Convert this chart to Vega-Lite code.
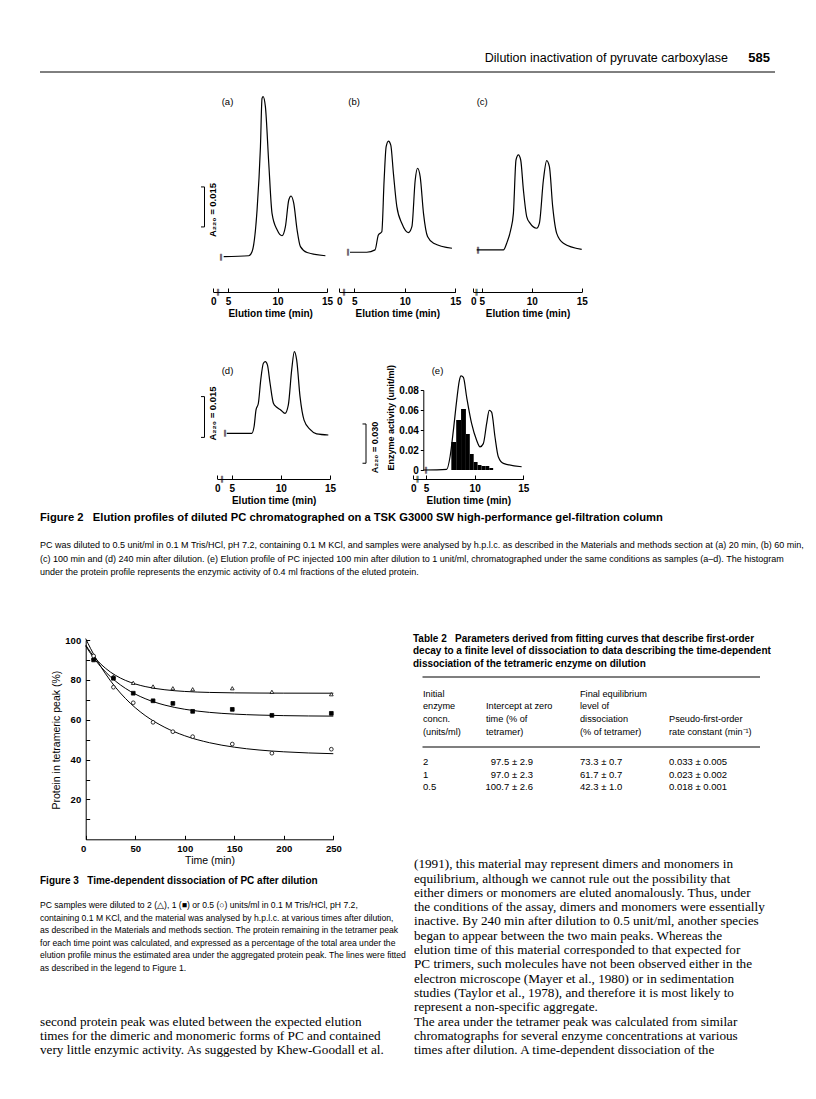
{
  "$schema": "https://vega.github.io/schema/vega-lite/v6.json",
  "width": 816,
  "height": 1099,
  "autosize": {"type": "none"},
  "padding": 0,
  "background": "white",
  "config": {
    "view": {"stroke": null},
    "font": "Liberation Sans",
    "axis": {"grid": false, "domainColor": "black", "domainWidth": 1, "tickColor": "black", "tickWidth": 1, "labelColor": "black", "titleColor": "black", "labelFlush": false, "labelOverlap": false, "labelBound": false, "labelFont": "Liberation Sans", "titleFont": "Liberation Sans"},
    "text": {"color": "black"}
  },
  "resolve": {"scale": {"x": "independent", "y": "independent", "shape": "independent", "fill": "independent"}, "axis": {"x": "independent", "y": "independent"}},
  "layer": [
    {"data": {"values": [{}]}, "mark": {"type": "rule", "color": "black", "strokeWidth": 1}, "encoding": {"x": {"value": 40}, "x2": {"value": 775}, "y": {"value": 72}}},
    {"data": {"values": [{"t": "Dilution inactivation of pyruvate carboxylase"}]}, "mark": {"type": "text", "align": "right", "baseline": "middle", "fontSize": 12.5, "color": "black"}, "encoding": {"text": {"field": "t"}, "x": {"value": 728}, "y": {"value": 58}}},
    {"data": {"values": [{"t": "585"}]}, "mark": {"type": "text", "align": "right", "baseline": "middle", "fontSize": 13, "fontWeight": "bold", "color": "black"}, "encoding": {"text": {"field": "t"}, "x": {"value": 770}, "y": {"value": 58}}},

    {"data": {"values": [
      {"t": 4.56, "A": 0.0133}, {"t": 7.09, "A": 0.0136}, {"t": 7.42, "A": 0.0151}, {"t": 7.93, "A": 0.0308}, {"t": 8.27, "A": 0.0545}, {"t": 8.43, "A": 0.0726}, {"t": 8.54, "A": 0.0733}, {"t": 8.77, "A": 0.0695}, {"t": 9.11, "A": 0.0483}, {"t": 9.44, "A": 0.0295}, {"t": 9.95, "A": 0.0233}, {"t": 10.45, "A": 0.0211}, {"t": 10.79, "A": 0.0245}, {"t": 11.13, "A": 0.0345}, {"t": 11.36, "A": 0.036}, {"t": 11.63, "A": 0.0333}, {"t": 11.97, "A": 0.0233}, {"t": 12.31, "A": 0.017}, {"t": 12.98, "A": 0.0148}, {"t": 14.83, "A": 0.0136}
    ]},
     "layer": [
      {"mark": {"type": "line", "color": "black", "strokeWidth": 1.2, "interpolate": "monotone"},
       "encoding": {
         "x": {"field": "t", "type": "quantitative", "scale": {"domain": [3.5, 15], "range": [213.2, 327.1], "zero": false, "nice": false},
               "axis": {"orient": "bottom", "offset": -807, "values": [3.5, 5, 10, 15], "labelExpr": "datum.value < 4.9 ? '0' : datum.label", "tickSize": -4, "labelPadding": 8, "labelFontSize": 10, "labelFontWeight": "bold", "title": "Elution time (min)", "titleFontSize": 10, "titleFontWeight": "bold", "titlePadding": 2}},
         "y": {"field": "A", "type": "quantitative", "scale": {"domain": [0, 0.075], "range": [292, 92], "zero": false, "nice": false}, "axis": null}}},
      {"data": {"values": [{"lo": 0.0244, "hi": 0.0394}]}, "mark": {"type": "rule", "color": "black", "strokeWidth": 1}, "encoding": {"x": {"value": 204.5}, "y": {"field": "lo", "type": "quantitative", "axis": null}, "y2": {"field": "hi"}}},
      {"data": {"values": [{"lo": 0.0244, "hi": 0.0394}]}, "mark": {"type": "rule", "color": "black", "strokeWidth": 1}, "encoding": {"x": {"value": 201}, "x2": {"value": 204.5}, "y": {"field": "hi", "type": "quantitative", "axis": null}}},
      {"data": {"values": [{"lo": 0.0244, "hi": 0.0394}]}, "mark": {"type": "rule", "color": "black", "strokeWidth": 1}, "encoding": {"x": {"value": 201}, "x2": {"value": 204.5}, "y": {"field": "lo", "type": "quantitative", "axis": null}}}
     ]},

    {"data": {"values": [
      {"t": 4.57, "A": 0.0149}, {"t": 6.23, "A": 0.0149}, {"t": 7.05, "A": 0.0158}, {"t": 7.38, "A": 0.0214}, {"t": 7.72, "A": 0.0226}, {"t": 7.95, "A": 0.042}, {"t": 8.15, "A": 0.0545}, {"t": 8.38, "A": 0.0566}, {"t": 8.61, "A": 0.0551}, {"t": 8.87, "A": 0.0445}, {"t": 9.21, "A": 0.032}, {"t": 9.7, "A": 0.0258}, {"t": 10.36, "A": 0.0223}, {"t": 10.7, "A": 0.0245}, {"t": 11.03, "A": 0.042}, {"t": 11.26, "A": 0.0464}, {"t": 11.52, "A": 0.0433}, {"t": 11.85, "A": 0.0295}, {"t": 12.25, "A": 0.0208}, {"t": 12.85, "A": 0.0183}, {"t": 14.67, "A": 0.0164}
    ]},
     "mark": {"type": "line", "color": "black", "strokeWidth": 1.2, "interpolate": "monotone"},
     "encoding": {
       "x": {"field": "t", "type": "quantitative", "scale": {"domain": [3.51, 15], "range": [339.3, 455.3], "zero": false, "nice": false},
             "axis": {"orient": "bottom", "offset": -807, "values": [3.51, 5, 10, 15], "labelExpr": "datum.value < 4.9 ? '0' : datum.label", "tickSize": -4, "labelPadding": 8, "labelFontSize": 10, "labelFontWeight": "bold", "title": "Elution time (min)", "titleFontSize": 10, "titleFontWeight": "bold", "titlePadding": 2}},
       "y": {"field": "A", "type": "quantitative", "scale": {"domain": [0, 0.075], "range": [292, 92], "zero": false, "nice": false}, "axis": null}}},

    {"data": {"values": [
      {"t": 4.5, "A": 0.0158}, {"t": 7.17, "A": 0.0158}, {"t": 7.5, "A": 0.0183}, {"t": 7.9, "A": 0.0233}, {"t": 8.17, "A": 0.0295}, {"t": 8.43, "A": 0.0495}, {"t": 8.67, "A": 0.0514}, {"t": 8.9, "A": 0.0495}, {"t": 9.17, "A": 0.0383}, {"t": 9.5, "A": 0.0283}, {"t": 9.83, "A": 0.0258}, {"t": 10.5, "A": 0.0239}, {"t": 10.77, "A": 0.0258}, {"t": 11.17, "A": 0.042}, {"t": 11.5, "A": 0.0493}, {"t": 11.77, "A": 0.047}, {"t": 12.1, "A": 0.032}, {"t": 12.5, "A": 0.022}, {"t": 13.17, "A": 0.0183}, {"t": 15.0, "A": 0.016}
    ]},
     "mark": {"type": "line", "color": "black", "strokeWidth": 1.2, "interpolate": "monotone"},
     "encoding": {
       "x": {"field": "t", "type": "quantitative", "scale": {"domain": [4.16, 15], "range": [473.3, 581.7], "zero": false, "nice": false},
             "axis": {"orient": "bottom", "offset": -807, "values": [4.16, 5, 10, 15], "labelExpr": "datum.value < 4.9 ? '0' : datum.label", "tickSize": -4, "labelPadding": 8, "labelFontSize": 10, "labelFontWeight": "bold", "title": "Elution time (min)", "titleFontSize": 10, "titleFontWeight": "bold", "titlePadding": 2}},
       "y": {"field": "A", "type": "quantitative", "scale": {"domain": [0, 0.075], "range": [292, 92], "zero": false, "nice": false}, "axis": null}}},

    {"data": {"values": [
      {"t": 4.49, "A": 0.0171}, {"t": 7.03, "A": 0.0171}, {"t": 7.27, "A": 0.0196}, {"t": 7.47, "A": 0.0259}, {"t": 7.71, "A": 0.0284}, {"t": 7.95, "A": 0.0371}, {"t": 8.22, "A": 0.0434}, {"t": 8.42, "A": 0.044}, {"t": 8.63, "A": 0.0428}, {"t": 8.9, "A": 0.0359}, {"t": 9.24, "A": 0.0284}, {"t": 9.58, "A": 0.0269}, {"t": 9.98, "A": 0.0259}, {"t": 10.42, "A": 0.0246}, {"t": 10.76, "A": 0.0278}, {"t": 11.1, "A": 0.0409}, {"t": 11.37, "A": 0.0478}, {"t": 11.61, "A": 0.0446}, {"t": 11.95, "A": 0.0309}, {"t": 12.36, "A": 0.0221}, {"t": 12.97, "A": 0.0186}, {"t": 13.64, "A": 0.0169}, {"t": 14.83, "A": 0.0165}
    ]},
     "layer": [
      {"mark": {"type": "line", "color": "black", "strokeWidth": 1.2, "interpolate": "monotone"},
       "encoding": {
         "x": {"field": "t", "type": "quantitative", "scale": {"domain": [3.53, 15], "range": [217.3, 330], "zero": false, "nice": false},
               "axis": {"orient": "bottom", "offset": -620, "values": [3.53, 5, 10, 15], "labelExpr": "datum.value < 4.9 ? '0' : datum.label", "tickSize": -4, "labelPadding": 8, "labelFontSize": 10, "labelFontWeight": "bold", "title": "Elution time (min)", "titleFontSize": 10, "titleFontWeight": "bold", "titlePadding": 2}},
         "y": {"field": "A", "type": "quantitative", "scale": {"domain": [0, 0.0375], "range": [479, 379], "zero": false, "nice": false}, "axis": null}}},
      {"data": {"values": [{"lo": 0.0156, "hi": 0.0309}]}, "mark": {"type": "rule", "color": "black", "strokeWidth": 1}, "encoding": {"x": {"value": 204.5}, "y": {"field": "lo", "type": "quantitative", "axis": null}, "y2": {"field": "hi"}}},
      {"data": {"values": [{"lo": 0.0156, "hi": 0.0309}]}, "mark": {"type": "rule", "color": "black", "strokeWidth": 1}, "encoding": {"x": {"value": 201}, "x2": {"value": 204.5}, "y": {"field": "hi", "type": "quantitative", "axis": null}}},
      {"data": {"values": [{"lo": 0.0156, "hi": 0.0309}]}, "mark": {"type": "rule", "color": "black", "strokeWidth": 1}, "encoding": {"x": {"value": 201}, "x2": {"value": 204.5}, "y": {"field": "lo", "type": "quantitative", "axis": null}}}
     ]},

    {"layer": [
      {"data": {"values": [
        {"start": 7.6, "end": 8.1, "activity": 0.028}, {"start": 8.1, "end": 8.6, "activity": 0.05}, {"start": 8.6, "end": 9.1, "activity": 0.061}, {"start": 9.1, "end": 9.5, "activity": 0.036}, {"start": 9.5, "end": 9.9, "activity": 0.016}, {"start": 9.9, "end": 10.3, "activity": 0.008}, {"start": 10.3, "end": 10.7, "activity": 0.005}, {"start": 10.7, "end": 11.1, "activity": 0.004}, {"start": 11.1, "end": 11.5, "activity": 0.004}, {"start": 11.5, "end": 11.9, "activity": 0.002}
      ]},
       "mark": {"type": "bar", "color": "black"},
       "encoding": {
         "x": {"field": "start", "type": "quantitative", "scale": {"domain": [3.69, 15], "range": [413.3, 523.3], "zero": false, "nice": false},
               "axis": {"orient": "bottom", "offset": -620, "values": [3.69, 5, 10, 15], "labelExpr": "datum.value < 4.9 ? '0' : datum.label", "tickSize": -4, "labelPadding": 8, "labelFontSize": 10, "labelFontWeight": "bold", "title": "Elution time (min)", "titleFontSize": 10, "titleFontWeight": "bold", "titlePadding": 2}},
         "x2": {"field": "end"},
         "y": {"field": "activity", "type": "quantitative", "scale": {"domain": [0, 0.08], "range": [470, 390], "zero": false, "nice": false},
               "axis": {"orient": "left", "offset": -423.3, "values": [0, 0.02, 0.04, 0.06, 0.08], "labelExpr": "datum.value == 0 ? '0' : format(datum.value, '.2f')", "tickSize": 3, "labelPadding": 2, "labelFontSize": 10, "labelFontWeight": "bold", "title": "Enzyme activity (unit/ml)", "titleFontSize": 9, "titleFontWeight": "bold", "titlePadding": 3, "titleAnchor": "start"}},
         "y2": {"datum": 0}}},
      {"data": {"values": [
        {"t": 4.73, "A": 0}, {"t": 7.12, "A": 0.0005}, {"t": 7.47, "A": 0.0102}, {"t": 7.81, "A": 0.0305}, {"t": 8.15, "A": 0.0534}, {"t": 8.42, "A": 0.0686}, {"t": 8.6, "A": 0.0724}, {"t": 8.84, "A": 0.0712}, {"t": 9.18, "A": 0.0559}, {"t": 9.69, "A": 0.0356}, {"t": 10.2, "A": 0.0229}, {"t": 10.55, "A": 0.0178}, {"t": 10.89, "A": 0.0203}, {"t": 11.23, "A": 0.0356}, {"t": 11.5, "A": 0.0458}, {"t": 11.74, "A": 0.0445}, {"t": 12.09, "A": 0.0254}, {"t": 12.43, "A": 0.0102}, {"t": 12.95, "A": 0.0051}, {"t": 14.83, "A": 0.0025}
      ]},
       "layer": [
        {"mark": {"type": "line", "color": "black", "strokeWidth": 1.2, "interpolate": "monotone"},
         "encoding": {"x": {"field": "t", "type": "quantitative",
                            "axis": {"orient": "bottom", "offset": -620, "values": [3.69, 5, 10, 15], "labelExpr": "datum.value < 4.9 ? '0' : datum.label", "tickSize": -4, "labelPadding": 8, "labelFontSize": 10, "labelFontWeight": "bold", "title": "Elution time (min)", "titleFontSize": 10, "titleFontWeight": "bold", "titlePadding": 2}},
                      "y": {"field": "A", "type": "quantitative", "scale": {"domain": [0, 0.07692], "range": [470, 370], "zero": false, "nice": false}, "axis": null}}},
        {"data": {"values": [{"lo": 0.0052, "hi": 0.0354}]}, "mark": {"type": "rule", "color": "black", "strokeWidth": 1}, "encoding": {"x": {"value": 366}, "y": {"field": "lo", "type": "quantitative", "axis": null}, "y2": {"field": "hi"}}},
        {"data": {"values": [{"lo": 0.0052, "hi": 0.0354}]}, "mark": {"type": "rule", "color": "black", "strokeWidth": 1}, "encoding": {"x": {"value": 362.5}, "x2": {"value": 366}, "y": {"field": "hi", "type": "quantitative", "axis": null}}},
        {"data": {"values": [{"lo": 0.0052, "hi": 0.0354}]}, "mark": {"type": "rule", "color": "black", "strokeWidth": 1}, "encoding": {"x": {"value": 362.5}, "x2": {"value": 366}, "y": {"field": "lo", "type": "quantitative", "axis": null}}}
       ]}
     ],
     "resolve": {"scale": {"y": "independent"}, "axis": {"y": "independent"}}},

    {"data": {"values": [
      {"x": 218, "y": 292}, {"x": 221, "y": 257}, {"x": 344, "y": 292}, {"x": 348, "y": 252}, {"x": 476.5, "y": 292}, {"x": 478, "y": 250},
      {"x": 222, "y": 479}, {"x": 225, "y": 433}, {"x": 417.5, "y": 479}, {"x": 426, "y": 470}
     ]},
     "mark": {"type": "text", "text": "\u2016", "align": "center", "baseline": "middle", "fontSize": 7, "font": "DejaVu Sans", "color": "black", "fill": "black"},
     "encoding": {"x": {"field": "x", "type": "quantitative", "scale": {"domain": [0, 816], "range": [0, 816]}, "axis": null}, "y": {"field": "y", "type": "quantitative", "scale": {"domain": [0, 1099], "range": [0, 1099]}, "axis": null}}},

    {"data": {"values": [{"t": "A\u2082\u2082\u2080 = 0.015"}]}, "mark": {"type": "text", "angle": 270, "align": "center", "baseline": "middle", "fontSize": 9.5, "fontWeight": "bold", "color": "black"}, "encoding": {"text": {"field": "t"}, "x": {"value": 212.5}, "y": {"value": 210}}},
    {"data": {"values": [{"t": "A\u2082\u2082\u2080 = 0.015"}]}, "mark": {"type": "text", "angle": 270, "align": "center", "baseline": "middle", "fontSize": 9.5, "fontWeight": "bold", "color": "black"}, "encoding": {"text": {"field": "t"}, "x": {"value": 212.5}, "y": {"value": 413.5}}},
    {"data": {"values": [{"t": "A\u2082\u2082\u2080 = 0.030"}]}, "mark": {"type": "text", "angle": 270, "align": "center", "baseline": "middle", "fontSize": 9, "fontWeight": "bold", "color": "black"}, "encoding": {"text": {"field": "t"}, "x": {"value": 375.3}, "y": {"value": 447.5}}},
    {"data": {"values": [{"t": "(a)"}]}, "mark": {"type": "text", "align": "left", "baseline": "middle", "fontSize": 9.5, "color": "black"}, "encoding": {"text": {"field": "t"}, "x": {"value": 221.7}, "y": {"value": 102}}},
    {"data": {"values": [{"t": "(b)"}]}, "mark": {"type": "text", "align": "left", "baseline": "middle", "fontSize": 9.5, "color": "black"}, "encoding": {"text": {"field": "t"}, "x": {"value": 348.3}, "y": {"value": 102}}},
    {"data": {"values": [{"t": "(c)"}]}, "mark": {"type": "text", "align": "left", "baseline": "middle", "fontSize": 9.5, "color": "black"}, "encoding": {"text": {"field": "t"}, "x": {"value": 476.7}, "y": {"value": 102}}},
    {"data": {"values": [{"t": "(d)"}]}, "mark": {"type": "text", "align": "left", "baseline": "middle", "fontSize": 9.5, "color": "black"}, "encoding": {"text": {"field": "t"}, "x": {"value": 221.7}, "y": {"value": 371}}},
    {"data": {"values": [{"t": "(e)"}]}, "mark": {"type": "text", "align": "left", "baseline": "middle", "fontSize": 9.5, "color": "black"}, "encoding": {"text": {"field": "t"}, "x": {"value": 431.7}, "y": {"value": 371}}},

    {"data": {"values": [{"t": "Figure 2\u00a0\u00a0\u00a0Elution profiles of diluted PC chromatographed on a TSK G3000 SW high-performance gel-filtration column"}]}, "mark": {"type": "text", "align": "left", "baseline": "middle", "fontSize": 11.2, "fontWeight": "bold", "color": "black"}, "encoding": {"text": {"field": "t"}, "x": {"value": 40}, "y": {"value": 518}}},
    {"data": {"values": [{"t": "PC was diluted to 0.5 unit/ml in 0.1 M Tris/HCl, pH 7.2, containing 0.1 M KCl, and samples were analysed by h.p.l.c. as described in the Materials and methods section at (a) 20 min, (b) 60 min,\n(c) 100 min and (d) 240 min after dilution. (e) Elution profile of PC injected 100 min after dilution to 1 unit/ml, chromatographed under the same conditions as samples (a\u2013d). The histogram\nunder the protein profile represents the enzymic activity of 0.4 ml fractions of the eluted protein."}]}, "mark": {"type": "text", "align": "left", "baseline": "alphabetic", "fontSize": 9, "lineBreak": "\n", "lineHeight": 13.5, "color": "black"}, "encoding": {"text": {"field": "t"}, "x": {"value": 40}, "y": {"value": 548}}},

    {"layer": [
      {"data": {"values": [
        {"conc": "2", "time": 0, "fit": 97.5}, {"conc": "2", "time": 5, "fit": 93.82}, {"conc": "2", "time": 10, "fit": 90.7}, {"conc": "2", "time": 20, "fit": 85.81}, {"conc": "2", "time": 30, "fit": 82.29}, {"conc": "2", "time": 40, "fit": 79.76}, {"conc": "2", "time": 50, "fit": 77.95}, {"conc": "2", "time": 60, "fit": 76.64}, {"conc": "2", "time": 80, "fit": 75.03}, {"conc": "2", "time": 100, "fit": 74.19}, {"conc": "2", "time": 125, "fit": 73.69}, {"conc": "2", "time": 150, "fit": 73.47}, {"conc": "2", "time": 175, "fit": 73.38}, {"conc": "2", "time": 200, "fit": 73.33}, {"conc": "2", "time": 250, "fit": 73.3},
        {"conc": "1", "time": 0, "fit": 97.0}, {"conc": "1", "time": 5, "fit": 93.17}, {"conc": "1", "time": 10, "fit": 89.75}, {"conc": "1", "time": 20, "fit": 83.98}, {"conc": "1", "time": 30, "fit": 79.41}, {"conc": "1", "time": 40, "fit": 75.77}, {"conc": "1", "time": 50, "fit": 72.88}, {"conc": "1", "time": 60, "fit": 70.58}, {"conc": "1", "time": 80, "fit": 67.31}, {"conc": "1", "time": 100, "fit": 65.24}, {"conc": "1", "time": 125, "fit": 63.69}, {"conc": "1", "time": 150, "fit": 62.82}, {"conc": "1", "time": 175, "fit": 62.33}, {"conc": "1", "time": 200, "fit": 62.05}, {"conc": "1", "time": 250, "fit": 61.81},
        {"conc": "0.5", "time": 0, "fit": 100.7}, {"conc": "0.5", "time": 5, "fit": 95.67}, {"conc": "0.5", "time": 10, "fit": 91.08}, {"conc": "0.5", "time": 20, "fit": 83.05}, {"conc": "0.5", "time": 30, "fit": 76.33}, {"conc": "0.5", "time": 40, "fit": 70.73}, {"conc": "0.5", "time": 50, "fit": 66.04}, {"conc": "0.5", "time": 60, "fit": 62.13}, {"conc": "0.5", "time": 80, "fit": 56.14}, {"conc": "0.5", "time": 100, "fit": 51.95}, {"conc": "0.5", "time": 125, "fit": 48.46}, {"conc": "0.5", "time": 150, "fit": 46.23}, {"conc": "0.5", "time": 175, "fit": 44.8}, {"conc": "0.5", "time": 200, "fit": 43.9}, {"conc": "0.5", "time": 250, "fit": 42.95}
      ]},
       "mark": {"type": "line", "color": "black", "strokeWidth": 1, "interpolate": "monotone"},
       "encoding": {
         "x": {"field": "time", "type": "quantitative", "scale": {"domain": [0, 250], "range": [85.7, 333.3], "zero": false, "nice": false},
               "axis": {"orient": "bottom", "offset": -259.7, "values": [0, 50, 100, 150, 200, 250], "tickSize": -4, "labelPadding": 8, "labelFontSize": 9.5, "labelFontWeight": "bold", "labelAlign": {"condition": {"test": "datum.value == 0", "value": "right"}, "value": "center"}, "title": "Time (min)", "titleFontSize": 10.5, "titleFontWeight": "normal", "titlePadding": 3}},
         "y": {"field": "fit", "type": "quantitative", "scale": {"domain": [0, 100], "range": [839.3, 640], "zero": false, "nice": false},
               "axis": {"orient": "left", "offset": -85.7, "values": [10, 20, 30, 40, 50, 60, 70, 80, 90, 100], "labelExpr": "datum.value % 20 == 0 ? datum.label : ''", "tickSize": -4, "labelPadding": 9, "labelFontSize": 9.5, "labelFontWeight": "bold", "title": "Protein in tetrameric peak (%)", "titleFontSize": 10.5, "titleFontWeight": "normal", "titlePadding": 3}},
         "detail": {"field": "conc", "type": "nominal"}}},
      {"data": {"values": [
        {"conc": "2", "time": 8, "pct": 91}, {"conc": "2", "time": 28, "pct": 81.7}, {"conc": "2", "time": 48, "pct": 78.5}, {"conc": "2", "time": 68, "pct": 76.7}, {"conc": "2", "time": 88, "pct": 75.8}, {"conc": "2", "time": 108, "pct": 75.3}, {"conc": "2", "time": 148, "pct": 75.8}, {"conc": "2", "time": 188, "pct": 74}, {"conc": "2", "time": 248, "pct": 72.8},
        {"conc": "1", "time": 8, "pct": 90}, {"conc": "1", "time": 28, "pct": 80.8}, {"conc": "1", "time": 48, "pct": 73.3}, {"conc": "1", "time": 68, "pct": 69.5}, {"conc": "1", "time": 88, "pct": 68.2}, {"conc": "1", "time": 108, "pct": 64.2}, {"conc": "1", "time": 148, "pct": 65.2}, {"conc": "1", "time": 188, "pct": 62.2}, {"conc": "1", "time": 248, "pct": 63.2},
        {"conc": "0.5", "time": 8, "pct": 92}, {"conc": "0.5", "time": 28, "pct": 76.3}, {"conc": "0.5", "time": 48, "pct": 68.5}, {"conc": "0.5", "time": 68, "pct": 58.7}, {"conc": "0.5", "time": 88, "pct": 54}, {"conc": "0.5", "time": 108, "pct": 51.5}, {"conc": "0.5", "time": 148, "pct": 47.8}, {"conc": "0.5", "time": 188, "pct": 43.2}, {"conc": "0.5", "time": 248, "pct": 45.2}
      ]},
       "mark": {"type": "point", "filled": true, "stroke": "black", "strokeWidth": 0.8, "size": 14, "opacity": 1},
       "encoding": {
         "x": {"field": "time", "type": "quantitative",
               "axis": {"orient": "bottom", "offset": -259.7, "values": [0, 50, 100, 150, 200, 250], "tickSize": -4, "labelPadding": 8, "labelFontSize": 9.5, "labelFontWeight": "bold", "labelAlign": {"condition": {"test": "datum.value == 0", "value": "right"}, "value": "center"}, "title": "Time (min)", "titleFontSize": 10.5, "titleFontWeight": "normal", "titlePadding": 3}},
         "y": {"field": "pct", "type": "quantitative",
               "axis": {"orient": "left", "offset": -85.7, "values": [10, 20, 30, 40, 50, 60, 70, 80, 90, 100], "labelExpr": "datum.value % 20 == 0 ? datum.label : ''", "tickSize": -4, "labelPadding": 9, "labelFontSize": 9.5, "labelFontWeight": "bold", "title": "Protein in tetrameric peak (%)", "titleFontSize": 10.5, "titleFontWeight": "normal", "titlePadding": 3}},
         "shape": {"field": "conc", "type": "nominal", "scale": {"domain": ["2", "1", "0.5"], "range": ["triangle-up", "square", "circle"]}, "legend": null},
         "fill": {"field": "conc", "type": "nominal", "scale": {"domain": ["2", "1", "0.5"], "range": ["white", "black", "white"]}, "legend": null}}}
     ]},

    {"data": {"values": [{"t": "Figure 3\u00a0\u00a0\u00a0Time-dependent dissociation of PC after dilution"}]}, "mark": {"type": "text", "align": "left", "baseline": "middle", "fontSize": 10, "fontWeight": "bold", "color": "black"}, "encoding": {"text": {"field": "t"}, "x": {"value": 40}, "y": {"value": 881}}},
    {"data": {"values": [{"t": "PC samples were diluted to 2 (\u25b3), 1 (\u25a0) or 0.5 (\u25cb) units/ml in 0.1 M Tris/HCl, pH 7.2,\ncontaining 0.1 M KCl, and the material was analysed by h.p.l.c. at various times after dilution,\nas described in the Materials and methods section. The protein remaining in the tetramer peak\nfor each time point was calculated, and expressed as a percentage of the total area under the\nelution profile minus the estimated area under the aggregated protein peak. The lines were fitted\nas described in the legend to Figure 1."}]}, "mark": {"type": "text", "align": "left", "baseline": "alphabetic", "fontSize": 8.6, "lineBreak": "\n", "lineHeight": 12.6, "color": "black"}, "encoding": {"text": {"field": "t"}, "x": {"value": 40}, "y": {"value": 908}}},
    {"data": {"values": [{"t": "second protein peak was eluted between the expected elution\ntimes for the dimeric and monomeric forms of PC and contained\nvery little enzymic activity. As suggested by Khew-Goodall et al."}]}, "mark": {"type": "text", "align": "left", "baseline": "alphabetic", "fontSize": 13.2, "lineBreak": "\n", "lineHeight": 14.3, "font": "Liberation Serif", "color": "black"}, "encoding": {"text": {"field": "t"}, "x": {"value": 40}, "y": {"value": 1025.6}}},

    {"data": {"values": [{"t": "Table 2\u00a0\u00a0\u00a0Parameters derived from fitting curves that describe first-order\ndecay to a finite level of dissociation to data describing the time-dependent\ndissociation of the tetrameric enzyme on dilution"}]}, "mark": {"type": "text", "align": "left", "baseline": "alphabetic", "fontSize": 10, "fontWeight": "bold", "lineBreak": "\n", "lineHeight": 12.7, "color": "black"}, "encoding": {"text": {"field": "t"}, "x": {"value": 413}, "y": {"value": 641.7}}},
    {"data": {"values": [{}]}, "mark": {"type": "rule", "color": "black", "strokeWidth": 1.2}, "encoding": {"x": {"value": 422.5}, "x2": {"value": 760}, "y": {"value": 677}}},
    {"data": {"values": [{}]}, "mark": {"type": "rule", "color": "black", "strokeWidth": 1.2}, "encoding": {"x": {"value": 422.5}, "x2": {"value": 760}, "y": {"value": 747}}},
    {"data": {"values": [{"t": "Initial\nenzyme\nconcn.\n(units/ml)"}]}, "mark": {"type": "text", "align": "left", "baseline": "alphabetic", "fontSize": 9.2, "lineBreak": "\n", "lineHeight": 12.7, "color": "black"}, "encoding": {"text": {"field": "t"}, "x": {"value": 423}, "y": {"value": 696.5}}},
    {"data": {"values": [{"t": "Intercept at zero\ntime (% of\ntetramer)"}]}, "mark": {"type": "text", "align": "left", "baseline": "alphabetic", "fontSize": 9.2, "lineBreak": "\n", "lineHeight": 12.7, "color": "black"}, "encoding": {"text": {"field": "t"}, "x": {"value": 486}, "y": {"value": 709.2}}},
    {"data": {"values": [{"t": "Final equilibrium\nlevel of\ndissociation\n(% of tetramer)"}]}, "mark": {"type": "text", "align": "left", "baseline": "alphabetic", "fontSize": 9.2, "lineBreak": "\n", "lineHeight": 12.7, "color": "black"}, "encoding": {"text": {"field": "t"}, "x": {"value": 580}, "y": {"value": 696.5}}},
    {"data": {"values": [{"t": "Pseudo-first-order\nrate constant (min\u207b\u00b9)"}]}, "mark": {"type": "text", "align": "left", "baseline": "alphabetic", "fontSize": 9.2, "lineBreak": "\n", "lineHeight": 12.7, "color": "black"}, "encoding": {"text": {"field": "t"}, "x": {"value": 669}, "y": {"value": 721.9}}},

    {"data": {"values": [
      {"conc": "2", "intercept": "97.5 \u00b1 2.9", "final": "73.3 \u00b1 0.7", "rate": "0.033 \u00b1 0.005"},
      {"conc": "1", "intercept": "97.0 \u00b1 2.3", "final": "61.7 \u00b1 0.7", "rate": "0.023 \u00b1 0.002"},
      {"conc": "0.5", "intercept": "100.7 \u00b1 2.6", "final": "42.3 \u00b1 1.0", "rate": "0.018 \u00b1 0.001"}
    ]},
     "encoding": {"y": {"field": "conc", "type": "ordinal", "sort": ["2", "1", "0.5"], "scale": {"type": "point", "domain": ["2", "1", "0.5"], "range": [761.7, 787.3], "padding": 0}, "axis": null}},
     "layer": [
      {"mark": {"type": "text", "align": "left", "baseline": "middle", "fontSize": 9.5, "color": "black"}, "encoding": {"text": {"field": "conc"}, "x": {"value": 423}}},
      {"mark": {"type": "text", "align": "right", "baseline": "middle", "fontSize": 9.5, "color": "black"}, "encoding": {"text": {"field": "intercept"}, "x": {"value": 533}}},
      {"mark": {"type": "text", "align": "left", "baseline": "middle", "fontSize": 9.5, "color": "black"}, "encoding": {"text": {"field": "final"}, "x": {"value": 580}}},
      {"mark": {"type": "text", "align": "left", "baseline": "middle", "fontSize": 9.5, "color": "black"}, "encoding": {"text": {"field": "rate"}, "x": {"value": 669}}}
     ]},

    {"data": {"values": [{"t": "(1991), this material may represent dimers and monomers in\nequilibrium, although we cannot rule out the possibility that\neither dimers or monomers are eluted anomalously. Thus, under\nthe conditions of the assay, dimers and monomers were essentially\ninactive. By 240 min after dilution to 0.5 unit/ml, another species\nbegan to appear between the two main peaks. Whereas the\nelution time of this material corresponded to that expected for\nPC trimers, such molecules have not been observed either in the\nelectron microscope (Mayer et al., 1980) or in sedimentation\nstudies (Taylor et al., 1978), and therefore it is most likely to\nrepresent a non-specific aggregate.\n\u00a0\u00a0\u00a0The area under the tetramer peak was calculated from similar\nchromatographs for several enzyme concentrations at various\ntimes after dilution. A time-dependent dissociation of the"}]}, "mark": {"type": "text", "align": "left", "baseline": "alphabetic", "fontSize": 13.2, "lineBreak": "\n", "lineHeight": 14.3, "font": "Liberation Serif", "color": "black"}, "encoding": {"text": {"field": "t"}, "x": {"value": 414}, "y": {"value": 868.3}}}
  ]
}
